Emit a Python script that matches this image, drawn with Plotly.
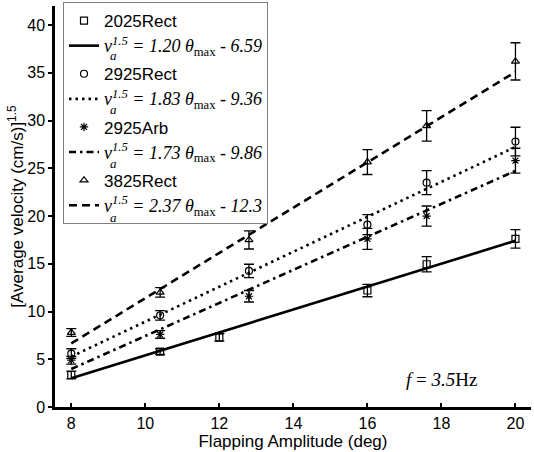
import plotly.graph_objects as go

# ---- data ----
x_2025 = [8, 10.4, 12, 16, 17.6, 20]
y_2025 = [3.35, 5.8, 7.3, 12.2, 14.95, 17.6]
e_2025 = [0.4, 0.3, 0.4, 0.65, 0.8, 0.97]

x_2925 = [8, 10.4, 12.8, 16, 17.6, 20]
y_2925R = [5.6, 9.6, 14.25, 19.1, 23.5, 27.8]
e_2925R = [0.5, 0.5, 0.7, 1.05, 1.25, 1.5]
y_2925A = [4.9, 7.6, 11.6, 17.6, 20.0, 25.8]
e_2925A = [0.4, 0.4, 0.6, 1.1, 1.05, 1.3]

x_3825 = [8, 10.4, 12.8, 16, 17.6, 20]
y_3825 = [7.8, 12.0, 17.5, 25.65, 29.45, 36.2]
e_3825 = [0.4, 0.5, 0.95, 1.3, 1.6, 1.95]

series_names = ["2025Rect", "2925Rect", "2925Arb", "3825Rect"]
fit_slopes = [1.20, 1.83, 1.73, 2.37]
fit_intercepts = [-6.59, -9.36, -9.86, -12.3]
fit_labels_intercept = ["6.59", "9.36", "9.86", "12.3"]
fit_x = [8, 20]

xs = [x_2025, x_2925, x_2925, x_3825]
ys = [y_2025, y_2925R, y_2925A, y_3825]
es = [e_2025, e_2925R, e_2925A, e_3825]

symbols = ["square-open", "circle-open", "asterisk-open", "triangle-up-open"]
dashes = ["solid", "2.5px,4px", "7px,4px,2.5px,4px", "8px,5px"]

SERIF = "Liberation Serif, Times New Roman, serif"
SANS = "Liberation Sans, Arial, sans-serif"

W, H = 534, 452
ML, MR, MT, MB = 55, 3, 6, 45
PW, PH = W - ML - MR, H - MT - MB

fig = go.Figure()
for i in range(4):
    grp = "g%d" % i
    fig.add_trace(go.Scatter(
        x=xs[i], y=ys[i], mode="markers", name=series_names[i], legendgroup=grp,
        marker=dict(symbol=symbols[i], size=7, color="black",
                    line=dict(color="black", width=1.2)),
        error_y=dict(type="data", array=es[i], color="black",
                     thickness=1.3, width=5),
    ))
    fy = [fit_slopes[i] * v + fit_intercepts[i] for v in fit_x]
    eq = ("<span style=\"font-family:'Liberation Serif';font-style:italic;font-size:18px\">"
          "v<sup>1.5</sup> = %.2f θ<sub><span style=\"font-style:normal\">max</span></sub> - %s</span>"
          % (fit_slopes[i], fit_labels_intercept[i]))
    fig.add_trace(go.Scatter(
        x=fit_x, y=fy, mode="lines", name=eq, legendgroup=grp,
        line=dict(color="black", width=2.6, dash=dashes[i]),
    ))

# subscript "a" under the superscript of v in each legend equation (pixel positions)
sub_px = [(113, 55), (113, 109), (113, 163), (113, 217)]
for (px, py) in sub_px:
    fig.add_annotation(x=(px - ML) / PW, y=(H - MB - py) / PH, xref="paper", yref="paper",
                       xanchor="center", yanchor="middle",
                       showarrow=False, text="<i>a</i>",
                       font=dict(family=SERIF, size=13, color="black"))

fig.add_annotation(x=18.0, y=2.85, xref="x", yref="y", showarrow=False,
                   text="<i>f</i> = <i>3.5</i>Hz",
                   font=dict(family=SERIF, size=19, color="black"))

fig.update_layout(
    width=W, height=H,
    margin=dict(l=ML, r=MR, t=MT, b=MB, autoexpand=False),
    paper_bgcolor="white", plot_bgcolor="white",
    font=dict(family=SANS, size=16, color="black"),
    showlegend=True,
    legend=dict(x=(63 - ML) / PW, y=1.01, xanchor="left", yanchor="top",
                bgcolor="white", bordercolor="#808080", borderwidth=1,
                font=dict(family=SANS, size=17, color="black"),
                tracegroupgap=3),
    xaxis=dict(range=[7.56, 20.42], tickvals=[8, 10, 12, 14, 16, 18, 20],
               showline=True, linecolor="black", linewidth=2.5,
               ticks="inside", ticklen=4, tickwidth=1.5, tickcolor="black",
               showgrid=False, zeroline=False, automargin=False,
               title=dict(text="Flapping Amplitude (deg)", font=dict(size=17), standoff=2),
               tickfont=dict(size=16)),
    yaxis=dict(range=[0, 42], tickvals=[0, 5, 10, 15, 20, 25, 30, 35, 40],
               showline=True, linecolor="black", linewidth=2.5,
               ticks="outside", ticklen=4, tickwidth=1.5, tickcolor="black",
               showgrid=False, zeroline=False, automargin=False,
               title=dict(text="[Average velocity (cm/s)]<sup>1.5</sup>", font=dict(size=17), standoff=0),
               tickfont=dict(size=16)),
)

fig.write_html("out.html", config={"displayModeBar": False},
               post_script="document.body.style.margin='0';document.body.style.padding='0';")
